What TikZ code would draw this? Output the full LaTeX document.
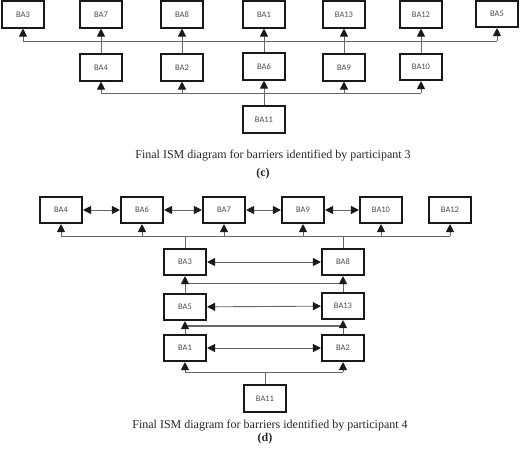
\documentclass[tikz,border=0pt]{standalone}
\usepackage{fontspec}
\setmainfont{Liberation Serif}
\newfontfamily\boxfont{Carlito}
\usetikzlibrary{arrows.meta}

\tikzset{
  box/.style={draw=black!90,line width=1.6pt,minimum width=42.5pt,minimum height=26.5pt,
    inner sep=0pt,font=\boxfont\fontsize{8.5}{9}\selectfont,text=black!70},
  link/.style={draw=black!60,line width=0.9pt},
  arr/.style={link,-{Triangle[length=8pt,width=8pt,color=black!90]}},
  both/.style={link,{Triangle[length=8pt,width=8pt,color=black!90]}-{Triangle[length=8pt,width=8pt,color=black!90]}},
  caption/.style={font=\fontsize{12}{14}\selectfont,text=black!85}
}

\begin{document}
\begin{tikzpicture}[x=1pt,y=-1pt]
\useasboundingbox (0,0) rectangle (520,453);

% (c)
\node[box] at (23,14.5) (c3) {BA3};
\node[box] at (101,14.5) (c7) {BA7};
\node[box] at (182,14.5) (c8) {BA8};
\node[box] at (264,14.5) (c1) {BA1};
\node[box] at (344,14.5) (c13) {BA13};
\node[box] at (421,14.5) (c12) {BA12};
\node[box] at (497,14) (c5) {BA5};
\node[box] at (101,67.5) (c4) {BA4};
\node[box] at (182,67.5) (c2) {BA2};
\node[box] at (264,66.5) (c6) {BA6};
\node[box] at (344,67.5) (c9) {BA9};
\node[box] at (421,67) (c10) {BA10};
\node[box] at (264,119.5) (c11) {BA11};

\coordinate (cbus) at (0,41);
\coordinate (cbusb) at (0,93);
\draw[link] (c3.south |- cbus) -- (c5.south |- cbus);
\draw[arr] (c3.south |- cbus) -- (c3.south);
\draw[arr] (c4.north) -- (c7.south);
\draw[arr] (c2.north) -- (c8.south);
\draw[arr] (c6.north) -- (c1.south);
\draw[arr] (c9.north) -- (c13.south);
\draw[arr] (c10.north) -- (c12.south);
\draw[arr] (c5.south |- cbus) -- (c5.south);

\draw[link] (c4.south |- cbusb) -- (c10.south |- cbusb);
\draw[arr] (c11.north) -- (c6.south);
\draw[arr] (c4.south |- cbusb) -- (c4.south);
\draw[arr] (c2.south |- cbusb) -- (c2.south);
\draw[arr] (c9.south |- cbusb) -- (c9.south);
\draw[arr] (c10.south |- cbusb) -- (c10.south);

\node[caption] at (273,156) (capc) {Final ISM diagram for barriers identified by participant 3};
\node[caption,font=\fontsize{12}{14}\selectfont\bfseries] at (263,174) (tagc) {(c)};

% (d)
\node[box] at (61,210) (d4) {BA4};
\node[box] at (142,210) (d6) {BA6};
\node[box] at (224,210) (d7) {BA7};
\node[box] at (303,210) (d9) {BA9};
\node[box] at (381,210) (d10) {BA10};
\node[box] at (450,210) (d12) {BA12};
\node[box] at (185,262) (d3) {BA3};
\node[box] at (343,262) (d8) {BA8};
\node[box] at (185,307) (d5) {BA5};
\node[box] at (343,306) (d13) {BA13};
\node[box] at (185,348) (d1) {BA1};
\node[box] at (343,348) (d2) {BA2};
\node[box] at (265,398.5) (d11) {BA11};

\draw[both] (d4) -- (d6);
\draw[both] (d6) -- (d7);
\draw[both] (d7) -- (d9);
\draw[both] (d9) -- (d10);
\draw[both] (d3) -- (d8);
\draw[both] (d5) -- (d13);
\draw[both] (d1) -- (d2);

\coordinate (dbus) at (0,236);
\draw[link] (d4.south |- dbus) -- (d12.south |- dbus);
\draw[link] (d3.north) -- (d3.north |- dbus);
\draw[link] (d8.north) -- (d8.north |- dbus);
\foreach \n in {d4,d6,d7,d9,d10,d12}
  \draw[arr] (\n.south |- dbus) -- (\n.south);

\coordinate (dbusa) at (0,283);
\draw[link] (d3.south |- dbusa) -- (d8.south |- dbusa);
\draw[arr] (d5.north) -- (d3.south);
\draw[arr] (d13.north) -- (d8.south);

\coordinate (dbusb) at (0,326);
\draw[link,line width=1.5pt] (d5.south |- dbusb) -- (d13.south |- dbusb);
\draw[arr] (d1.north) -- (d5.south);
\draw[arr] (d2.north) -- (d13.south);

\coordinate (dbusc) at (0,372);
\draw[link] (d1.south |- dbusc) -- (d2.south |- dbusc);
\draw[link] (d11.north) -- (d11.north |- dbusc);
\draw[arr] (d1.south |- dbusc) -- (d1.south);
\draw[arr] (d2.south |- dbusc) -- (d2.south);

\node[caption] at (270,426) (capd) {Final ISM diagram for barriers identified by participant 4};
\node[caption,font=\fontsize{12}{14}\selectfont\bfseries] at (265,439) (tagd) {(d)};
\end{tikzpicture}
\end{document}
